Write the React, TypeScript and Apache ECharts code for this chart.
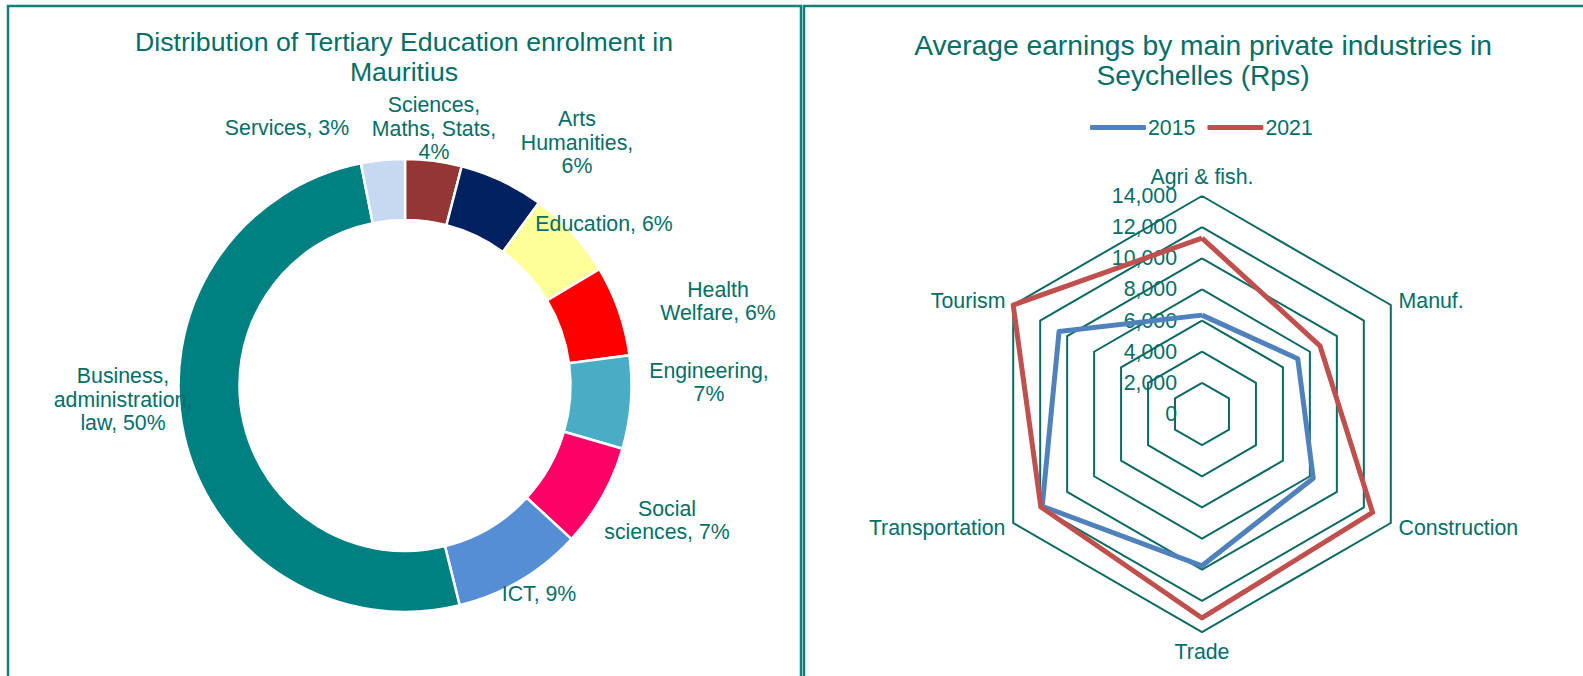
import React, { useEffect, useRef } from "react";
import * as echarts from "echarts";

// ---------- Data ----------
const pieCategories = [
  "Sciences,\nMaths, Stats",
  "Arts\nHumanities",
  "Education",
  "Health\nWelfare",
  "Engineering",
  "Social\nsciences",
  "ICT",
  "Business,\nadministration,\nlaw",
  "Services",
];
const pieValues = [4.0, 6.0, 6.3, 6.4, 6.6, 7.3, 9.2, 50.4, 3.1];
const pctOnNewLine = [true, true, false, false, true, false, false, false, false];
const pieColors = [
  "#943634",
  "#002060",
  "#FFFF99",
  "#FF0000",
  "#4BACC6",
  "#FF0066",
  "#558ED5",
  "#008080",
  "#C6D9F1",
];

const radarIndicators = ["Agri & fish.", "Manuf.", "Construction", "Trade", "Transportation", "Tourism"];
const radarSeriesNames = ["2015", "2021"];
const earnings2015 = [6350, 7100, 8250, 9750, 11850, 10600];
const earnings2021 = [11300, 8750, 12650, 13100, 11950, 14000];
const radarMax = 14000;
const radarStep = 2000;

// ---------- Layout ----------
const W = 1583;
const H = 676;
const FONT = "'Liberation Sans', Arial, sans-serif";
const TEXT = "#046E69";
const GRIDLINE = "#0B6A62";
const BORDER = "#13807A";
const pieCenter = [405, 385.5];
const pieRadius = [165.5, 226.5];
// label centre offsets from pie centre (layout only)
const labelOffsets = [
  [29, -257],
  [172, -243],
  [199, -162],
  [313, -84],
  [304, -3],
  [262, 135],
  [134, 208],
  [-282, 14],
  [-118, -258],
];
const radarCenter = [1202, 414];
const radarRadius = 218;

export default function App() {
  const ref = useRef<HTMLDivElement>(null);

  useEffect(() => {
    if (!ref.current) return;
    const chart = echarts.init(ref.current, undefined, { renderer: "svg" });

    // radar indicators are laid out counter-clockwise; reorder so they run clockwise
    const order = [0, 5, 4, 3, 2, 1];
    const indicator = order.map((i) => ({ name: radarIndicators[i], min: 0, max: radarMax }));
    const reorder = (arr: number[]) => order.map((i) => arr[i]);

    const titleText = {
      fontFamily: FONT,
      fontSize: 26.7,
      fontWeight: "normal" as const,
      color: TEXT,
      lineHeight: 30,
    };

    chart.setOption({
      animation: false,
      textStyle: { fontFamily: FONT },
      title: [
        {
          text: "Distribution of Tertiary Education enrolment in\nMauritius",
          left: 404,
          top: 27,
          textAlign: "center",
          padding: 0,
          textStyle: titleText,
        },
        {
          text: "Average earnings by main private industries in\nSeychelles (Rps)",
          left: 1203,
          top: 30,
          textAlign: "center",
          padding: 0,
          textStyle: { ...titleText, fontSize: 28.2 },
        },
      ],
      legend: {
        data: radarSeriesNames,
        left: 1090,
        top: 117,
        padding: 0,
        itemWidth: 56,
        itemHeight: 5,
        itemGap: 12,
        icon: "roundRect",
        textStyle: { fontFamily: FONT, fontSize: 21.3, color: TEXT, padding: [0, 0, 0, -3] },
      },
      grid: {
        left: radarCenter[0],
        width: 1,
        top: radarCenter[1] - radarRadius,
        height: radarRadius,
      },
      xAxis: { type: "value", show: false, min: 0, max: 1 },
      yAxis: {
        type: "value",
        min: 0,
        max: radarMax,
        interval: radarStep,
        axisLine: { show: false },
        axisTick: { show: false },
        splitLine: { show: false },
        axisLabel: {
          fontFamily: FONT,
          fontSize: 21.3,
          color: TEXT,
          margin: 25,
          formatter: (v: number) => v.toLocaleString("en-US"),
        },
      },
      radar: {
        center: radarCenter,
        radius: radarRadius,
        startAngle: 90,
        splitNumber: radarMax / radarStep,
        shape: "polygon",
        indicator,
        axisName: { color: TEXT, fontFamily: FONT, fontSize: 21.3 },
        nameGap: 9,
        axisLine: { show: false },
        axisTick: { show: false },
        axisLabel: { show: false },
        splitArea: { show: false },
        splitLine: { lineStyle: { color: GRIDLINE, width: 2 } },
      },
      series: [
        {
          type: "pie",
          center: pieCenter,
          radius: pieRadius,
          startAngle: 90,
          clockwise: true,
          avoidLabelOverlap: false,
          itemStyle: { borderColor: "#ffffff", borderWidth: 2.5 },
          label: {
            show: true,
            position: "outside",
            color: TEXT,
            fontFamily: FONT,
            fontSize: 21.3,
            lineHeight: 23.5,
            formatter: (p: any) =>
              p.name + (pctOnNewLine[p.dataIndex] ? ",\n" : ", ") + Math.round(p.value) + "%",
          },
          labelLine: { show: false },
          labelLayout: (p: any) => ({
            x: pieCenter[0] + labelOffsets[p.dataIndex][0],
            y: pieCenter[1] + labelOffsets[p.dataIndex][1],
            align: "center",
            verticalAlign: "middle",
          }),
          emphasis: { disabled: true },
          data: pieCategories.map((name, i) => ({
            name,
            value: pieValues[i],
            itemStyle: { color: pieColors[i] },
          })),
        },
        {
          type: "radar",
          symbol: "none",
          emphasis: { disabled: true },
          data: [
            {
              name: radarSeriesNames[0],
              value: reorder(earnings2015),
              lineStyle: { color: "#4F81BD", width: 5 },
              itemStyle: { color: "#4F81BD" },
            },
            {
              name: radarSeriesNames[1],
              value: reorder(earnings2021),
              lineStyle: { color: "#C0504D", width: 5 },
              itemStyle: { color: "#C0504D" },
            },
          ],
        },
      ],
      graphic: [
        {
          type: "rect",
          shape: { x: 8, y: 6, width: 793, height: H + 20 },
          style: { fill: "none", stroke: BORDER, lineWidth: 2.5 },
          silent: true,
        },
        {
          type: "rect",
          shape: { x: 804, y: 6, width: W, height: H + 20 },
          style: { fill: "none", stroke: BORDER, lineWidth: 2.5 },
          silent: true,
        },
      ],
    });

    return () => chart.dispose();
  }, []);

  return (
    <div
      ref={ref}
      style={{ position: "absolute", left: 0, top: 0, width: W, height: H, background: "#fff" }}
    />
  );
}
